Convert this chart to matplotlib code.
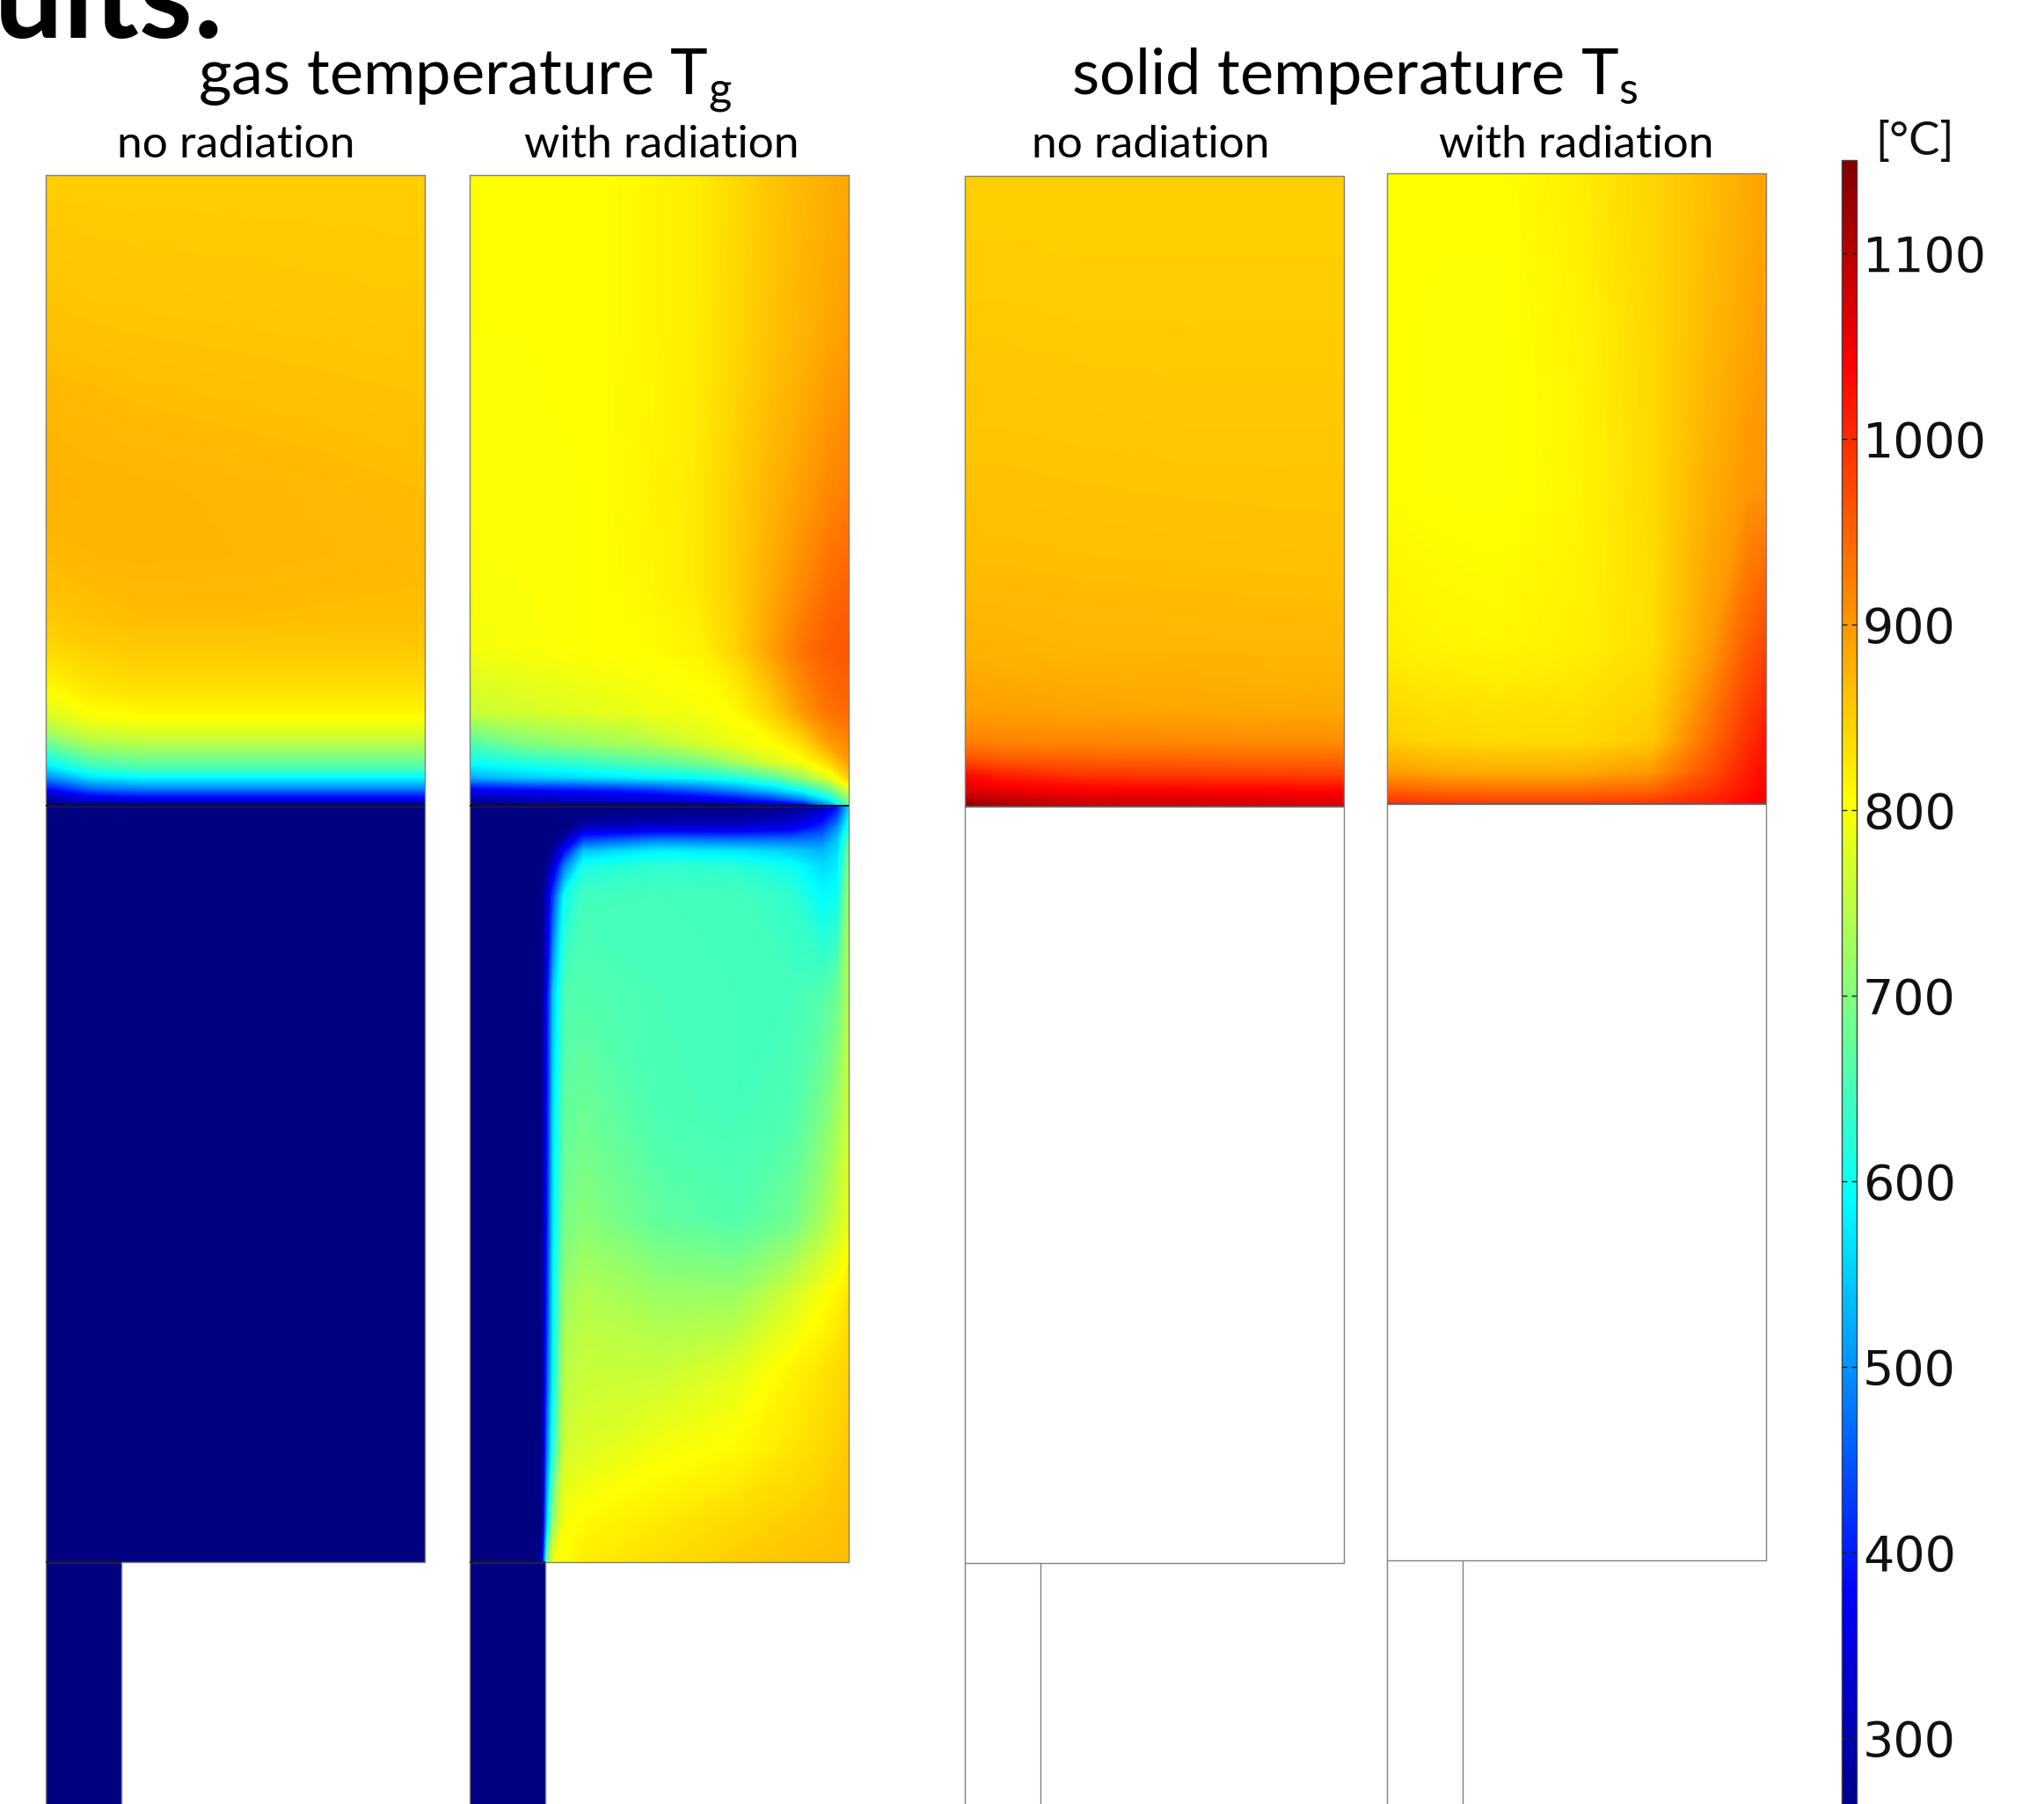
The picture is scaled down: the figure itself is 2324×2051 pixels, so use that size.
import numpy as np
import matplotlib
matplotlib.use("Agg")
import matplotlib.pyplot as plt
from matplotlib.colors import LinearSegmentedColormap, Normalize
from matplotlib.cm import ScalarMappable

plt.rcParams['font.family'] = ['Lato', 'DejaVu Sans']
plt.rcParams['mathtext.fontset'] = 'custom'
plt.rcParams['mathtext.rm'] = 'Lato'
plt.rcParams['mathtext.it'] = 'Lato:italic'

W, H = 2324, 2051

# colour legend [°C]
cbar_values = [250, 377, 590, 805, 1040, 1150]
cbar_colors = [(0, 0, 0.5), (0, 0, 1), (0, 1, 1), (1, 1, 0), (1, 0, 0), (0.5, 0, 0)]
cbar_ticks = [300, 400, 500, 600, 700, 800, 900, 1000, 1100]

# geometry, unit = column width
upper_h = 1.664
middle_h = 1.995
strip_w = 0.2

# --- gas temperature, no radiation ---
gas0_up_x = [0, 0.05, 0.12, 0.25, 0.5, 0.75, 1.0]
gas0_up_z = [0, 0.015, 0.03, 0.045, 0.06, 0.08, 0.1, 0.12, 0.14, 0.17, 0.2, 0.25, 0.3, 0.4, 0.5, 0.6, 0.8, 1.0]
gas0_up_T = [
    [250, 250, 250, 250, 250, 250, 250],
    [300, 330, 370, 390, 390, 390, 390],
    [400, 430, 480, 500, 500, 500, 500],
    [490, 520, 565, 585, 585, 585, 585],
    [560, 590, 630, 650, 650, 650, 650],
    [620, 650, 685, 700, 700, 700, 700],
    [680, 705, 735, 745, 745, 745, 745],
    [730, 750, 770, 780, 780, 780, 780],
    [765, 780, 797, 805, 805, 805, 805],
    [795, 805, 818, 825, 825, 825, 825],
    [815, 822, 833, 840, 840, 840, 840],
    [840, 844, 850, 855, 855, 855, 855],
    [855, 858, 862, 866, 866, 865, 864],
    [870, 871, 872, 873, 872, 870, 868],
    [875, 875, 874, 873, 871, 869, 866],
    [872, 871, 870, 868, 866, 864, 862],
    [860, 859, 858, 857, 856, 855, 854],
    [850, 850, 850, 850, 850, 850, 850],
]
gas0_mid_x = [0, 1.0]
gas0_mid_z = [0, 1.0]
gas0_mid_T = [[250, 250], [250, 250]]
strip_T = [[250, 250], [250, 250]]

# --- gas temperature, with radiation ---
gas1_up_x = [0, 0.15, 0.3, 0.45, 0.6, 0.7, 0.8, 0.88, 0.95, 1.0]
gas1_up_z = [0, 0.01, 0.025, 0.045, 0.07, 0.1, 0.15, 0.25, 0.35, 0.5, 0.75, 1.0]
gas1_up_T = [
    [250, 250, 250, 250, 250, 260, 290, 340, 480, 650],
    [290, 300, 315, 330, 345, 370, 420, 480, 580, 710],
    [360, 375, 390, 410, 450, 490, 540, 600, 670, 770],
    [520, 545, 560, 578, 595, 620, 660, 720, 785, 850],
    [600, 620, 640, 665, 690, 730, 775, 800, 845, 895],
    [660, 700, 720, 735, 770, 790, 805, 840, 895, 915],
    [760, 770, 780, 790, 797, 808, 850, 900, 935, 945],
    [795, 800, 804, 806, 815, 845, 895, 935, 955, 960],
    [800, 802, 804, 810, 825, 850, 885, 915, 940, 950],
    [803, 803, 804, 812, 825, 850, 875, 895, 915, 925],
    [804, 804, 805, 810, 822, 842, 862, 875, 888, 895],
    [805, 805, 805, 810, 822, 840, 858, 870, 880, 885],
]
gas1_mid_x = [0, 0.17, 0.19, 0.205, 0.22, 0.25, 0.3, 0.5, 0.7, 0.85, 0.93, 0.97, 1.0]
gas1_mid_z = [0, 0.05, 0.15, 0.25, 0.35, 0.45, 0.6, 0.75, 0.88, 0.92, 0.94, 0.955, 0.97, 0.985, 1.0]
gas1_mid_T = [
    [250, 250, 290, 700, 790, 805, 820, 835, 850, 858, 862, 864, 866],
    [250, 250, 250, 560, 720, 800, 810, 825, 840, 850, 856, 860, 862],
    [250, 250, 250, 480, 620, 765, 775, 795, 808, 828, 840, 848, 855],
    [250, 250, 250, 440, 590, 745, 758, 760, 780, 815, 830, 838, 845],
    [250, 250, 250, 420, 580, 720, 740, 722, 722, 770, 800, 815, 830],
    [250, 250, 250, 400, 570, 690, 705, 672, 660, 685, 730, 760, 785],
    [250, 250, 250, 390, 560, 670, 680, 652, 648, 655, 690, 720, 760],
    [250, 250, 250, 380, 540, 655, 660, 650, 648, 648, 660, 680, 740],
    [250, 250, 250, 330, 430, 600, 645, 648, 648, 630, 590, 600, 720],
    [250, 250, 250, 280, 330, 480, 610, 630, 625, 600, 560, 575, 700],
    [250, 250, 250, 250, 280, 380, 540, 580, 570, 550, 530, 560, 680],
    [250, 250, 250, 250, 250, 300, 430, 480, 470, 470, 480, 540, 660],
    [250, 250, 250, 250, 250, 250, 320, 340, 340, 360, 420, 500, 620],
    [250, 250, 250, 250, 250, 250, 260, 270, 275, 300, 360, 440, 580],
    [250, 250, 250, 250, 250, 250, 250, 250, 250, 260, 300, 380, 550],
]

# --- solid temperature, no radiation ---
sol0_up_x = [0, 0.1, 0.3, 0.6, 1.0]
sol0_up_z = [0, 0.015, 0.03, 0.05, 0.07, 0.1, 0.15, 0.25, 0.4, 0.6, 0.8, 1.0]
sol0_up_T = [
    [1150, 1120, 1095, 1085, 1075],
    [1095, 1080, 1065, 1060, 1055],
    [1060, 1045, 1035, 1030, 1025],
    [1030, 1010, 990, 985, 980],
    [975, 965, 958, 955, 950],
    [925, 920, 918, 915, 912],
    [895, 893, 890, 888, 886],
    [875, 874, 872, 871, 870],
    [865, 865, 864, 863, 862],
    [858, 858, 857, 856, 856],
    [852, 852, 851, 851, 851],
    [848, 848, 848, 848, 848],
]

# --- solid temperature, with radiation ---
sol1_up_x = [0, 0.15, 0.3, 0.5, 0.7, 0.85, 0.95, 1.0]
sol1_up_z = [0, 0.02, 0.05, 0.1, 0.25, 0.5, 0.75, 1.0]
sol1_up_T = [
    [1000, 990, 985, 985, 990, 1010, 1035, 1048],
    [955, 945, 940, 940, 950, 990, 1025, 1042],
    [895, 885, 880, 882, 900, 965, 1012, 1035],
    [850, 842, 840, 840, 855, 940, 995, 1020],
    [818, 814, 812, 818, 835, 895, 955, 975],
    [806, 803, 802, 812, 840, 880, 900, 905],
    [805, 803, 803, 815, 842, 870, 888, 895],
    [805, 805, 805, 820, 845, 865, 882, 890],
]

panel_left = [52, 534, 1097, 1577]
panel_top = [199, 199, 200, 197]
ppu = 431.0

vmin, vmax = cbar_values[0], cbar_values[-1]
pos = [(v - vmin) / (vmax - vmin) for v in cbar_values]
cmap = LinearSegmentedColormap.from_list('temp', list(zip(pos, cbar_colors)), N=1024)
cmap.set_under(cbar_colors[0])
cmap.set_over(cbar_colors[-1])
norm = Normalize(vmin, vmax)
levels = np.linspace(vmin, vmax, 451)

fig = plt.figure(figsize=(W / 100, H / 100), dpi=100)


def field(ax, xs, zs, T, z0, dz):
    X = np.array(xs, dtype=float)
    Z = z0 + dz * np.array(zs, dtype=float)
    ax.contourf(X, Z, np.array(T, dtype=float), levels=levels, cmap=cmap,
                norm=norm, extend='both', antialiased=False)


def outline(ax, xs, zs, color='#808080', lw=1.0):
    ax.plot(xs, zs, color=color, lw=lw, solid_capstyle='butt', zorder=5)


pad = 12
ztop = middle_h + upper_h
axes = []
for left, top in zip(panel_left, panel_top):
    ax = fig.add_axes([(left - pad) / W, 0, (ppu + 2 * pad) / W, (H - top + pad) / H])
    ax.set_xlim(-pad / ppu, 1 + pad / ppu)
    ax.set_ylim(ztop - (H - top) / ppu, ztop + pad / ppu)
    ax.axis('off')
    axes.append(ax)

ups = [(gas0_up_x, gas0_up_z, gas0_up_T), (gas1_up_x, gas1_up_z, gas1_up_T),
       (sol0_up_x, sol0_up_z, sol0_up_T), (sol1_up_x, sol1_up_z, sol1_up_T)]
for i, ax in enumerate(axes):
    xs, zs, T = ups[i]
    field(ax, xs, zs, T, middle_h, upper_h)
    gas = i < 2
    if gas:
        mx, mz, mT = [(gas0_mid_x, gas0_mid_z, gas0_mid_T), (gas1_mid_x, gas1_mid_z, gas1_mid_T)][i]
        field(ax, mx, mz, mT, 0, middle_h)
        field(ax, [0, strip_w], [-2, 0], strip_T, 0, 1)
    # outlines
    outline(ax, [0, 1, 1, 0, 0], [middle_h, middle_h, ztop, ztop, middle_h])
    outline(ax, [0, 0, 1, 1], [middle_h, 0, 0, middle_h])
    outline(ax, [0, 0], [0, -2])
    outline(ax, [strip_w, strip_w], [0, -2])
    if gas:
        outline(ax, [0, 1], [middle_h, middle_h], color='#111111', lw=1.4)
        outline(ax, [0, strip_w], [0, 0], color='#111111', lw=1.2)
    else:
        outline(ax, [0, 1], [middle_h, middle_h], color='#606060', lw=1.2)

# colour bar (runs past the bottom edge of the picture)
cax = fig.add_axes([2094 / W, (H - 2081) / H, 17 / W, (2081 - 182) / H])
cb = fig.colorbar(ScalarMappable(norm=norm, cmap=cmap), cax=cax, ticks=cbar_ticks)
cb.outline.set_edgecolor('#404040')
cb.outline.set_linewidth(1.0)
cax.tick_params(axis='y', direction='in', left=True, right=True, labelleft=False,
                labelright=True, length=4, width=1.0, color='#202020', pad=5)
for lab in cax.get_yticklabels():
    lab.set_fontfamily('DejaVu Sans')
    lab.set_fontsize(40)
    lab.set_color('#111111')

def ftext(x, y, s, **kw):
    fig.text(x / W, 1 - y / H, s, **kw)

ftext(2177, 176, '[°C]', ha='center', va='baseline', fontsize=38, color='#111111')

ftext(256, 43, 'Results:', ha='right', va='baseline', fontsize=100, fontweight='bold', color='black')
ftext(529, 107, r'gas temperature T$_{\mathrm{g}}$', ha='center', va='baseline', fontsize=52, color='black')
ftext(1540, 107, r'solid temperature T$_{\mathrm{s}}$', ha='center', va='baseline', fontsize=52, color='black')
sub_labels = ['no radiation', 'with radiation', 'no radiation', 'with radiation']
sub_x = [268, 752, 1308, 1792]
for s, x in zip(sub_labels, sub_x):
    ftext(x, 179, s, ha='center', va='baseline', fontsize=37, color='black')

fig.savefig('out.png', dpi=100)
